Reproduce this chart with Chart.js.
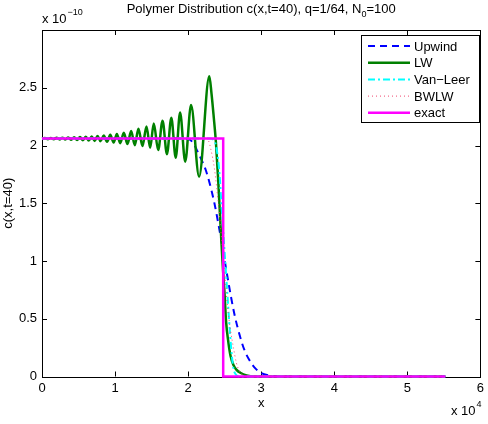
<!DOCTYPE html>
<html>
<head>
<meta charset="utf-8">
<script src="https://cdn.jsdelivr.net/npm/chart.js@4.4.0/dist/chart.umd.min.js"></script>
<style>
  body { margin: 0; background: #fff; }
  canvas { display: block; }
</style>
</head>
<body>
<canvas id="polymerChart" width="488" height="424"></canvas>
<script>
// Du lieu (x don vi 1e4, c don vi 1e-10)
const xTickValues = [0, 1, 2, 3, 4, 5, 6];
const yTickValues = [0, 0.5, 1, 1.5, 2, 2.5];

const upwindX = [0, 1.9, 2.0, 2.06, 2.12, 2.18, 2.24, 2.30, 2.36, 2.42, 2.47, 2.55, 2.63, 2.70, 2.77, 2.84, 2.92, 3.00, 3.10, 3.20, 3.30, 5.52];
const upwindY = [2.06, 2.06, 2.055, 2.03, 1.96, 1.88, 1.79, 1.66, 1.50, 1.30, 1.12, 0.82, 0.55, 0.37, 0.23, 0.14, 0.07, 0.03, 0.01, 0.003, 0, 0];

const lwX = [0, 0.04, 0.08, 0.12, 0.16, 0.20, 0.24, 0.28, 0.32, 0.36, 0.40, 0.44, 0.48, 0.52, 0.56, 0.60, 0.64, 0.68, 0.72, 0.76, 0.80,
  0.845, 0.89, 0.935, 0.98, 1.025, 1.07, 1.12, 1.17, 1.22, 1.27, 1.32, 1.375, 1.43, 1.48, 1.53, 1.59, 1.65, 1.71, 1.77, 1.83,
  1.89, 1.96, 2.04, 2.15, 2.29, 2.32, 2.35, 2.38, 2.41, 2.44, 2.47, 2.50, 2.52, 2.55, 2.58, 2.62, 2.66, 2.72, 2.80, 2.90, 5.52];
const lwY = [2.060, 2.065, 2.055, 2.066, 2.054, 2.067, 2.053, 2.068, 2.052, 2.070, 2.050, 2.072, 2.048, 2.074, 2.046, 2.076, 2.043, 2.079, 2.040, 2.082, 2.037,
  2.086, 2.032, 2.092, 2.026, 2.100, 2.020, 2.110, 2.012, 2.125, 2.003, 2.145, 1.995, 2.165, 1.980, 2.190, 1.960, 2.215, 1.925, 2.240, 1.895,
  2.285, 1.860, 2.350, 1.730, 2.600, 2.45, 2.25, 2.03, 1.72, 1.35, 1.00, 0.70, 0.47, 0.30, 0.18, 0.10, 0.06, 0.03, 0.01, 0, 0];

const vanLeerX = [0, 2.30, 2.36, 2.40, 2.43, 2.46, 2.50, 2.54, 2.57, 2.60, 2.62, 2.65, 2.70, 5.52];
const vanLeerY = [2.06, 2.06, 2.04, 1.93, 1.75, 1.45, 1.07, 0.69, 0.40, 0.17, 0.07, 0.02, 0, 0];

const bwlwX = [0, 2.25, 2.28, 2.31, 2.36, 2.41, 2.46, 2.50, 2.54, 2.58, 2.62, 2.66, 2.70, 2.75, 2.80, 5.52];
const bwlwY = [2.06, 2.06, 2.04, 1.97, 1.80, 1.52, 1.18, 0.90, 0.60, 0.40, 0.25, 0.12, 0.05, 0.015, 0, 0];

const exactX = [0, 2.48, 2.48, 5.52];
const exactY = [2.06, 2.06, 0, 0];

const FONT = "'Liberation Sans', Arial, sans-serif";
const FS = 13;

function toPoints(xs, ys) {
  return xs.map((x, i) => ({ x: x, y: ys[i] }));
}

// Plugin ve khung, vach chia, tieu de, chu thich
const matlabDecor = {
  id: 'matlabDecor',
  beforeDatasetsDraw(chart) {
    const ctx = chart.ctx;
    const a = chart.chartArea;
    const xs = chart.scales.x;
    const ys = chart.scales.y;
    ctx.save();
    ctx.strokeStyle = '#000';
    ctx.lineWidth = 1;
    ctx.strokeRect(Math.round(a.left) + 0.5, Math.round(a.top) + 0.5, Math.round(a.right - a.left), Math.round(a.bottom - a.top));
    ctx.beginPath();
    xTickValues.forEach(v => {
      const px = Math.round(xs.getPixelForValue(v)) + 0.5;
      ctx.moveTo(px, a.bottom); ctx.lineTo(px, a.bottom - 5);
      ctx.moveTo(px, a.top); ctx.lineTo(px, a.top + 5);
    });
    yTickValues.forEach(v => {
      const py = Math.round(ys.getPixelForValue(v)) + 0.5;
      ctx.moveTo(a.left, py); ctx.lineTo(a.left + 5, py);
      ctx.moveTo(a.right, py); ctx.lineTo(a.right - 5, py);
    });
    ctx.stroke();
    ctx.restore();
  },
  afterDraw(chart) {
    const ctx = chart.ctx;
    const a = chart.chartArea;
    const big = FS + 'px ' + FONT;
    const small = '9px ' + FONT;
    ctx.save();
    ctx.fillStyle = '#000';
    ctx.textBaseline = 'alphabetic';

    // Tieu de voi chi so duoi
    const t1 = 'Polymer Distribution c(x,t=40), q=1/64, N';
    const t2 = '0';
    const t3 = '=100';
    ctx.font = big;
    const w1 = ctx.measureText(t1).width;
    const w3 = ctx.measureText(t3).width;
    ctx.font = small;
    const w2 = ctx.measureText(t2).width;
    const tx = (a.left + a.right) / 2 - (w1 + w2 + w3) / 2;
    ctx.font = big;
    ctx.fillText(t1, tx, 13);
    ctx.font = small;
    ctx.fillText(t2, tx + w1, 17);
    ctx.font = big;
    ctx.fillText(t3, tx + w1 + w2, 13);

    // He so mu truc y
    ctx.font = big;
    ctx.fillText('x 10', 42, 23);
    const wy = ctx.measureText('x 10').width;
    ctx.font = small;
    ctx.fillText('\u221210', 42 + wy + 1, 15);

    // He so mu truc x
    ctx.font = big;
    ctx.fillText('x 10', 451, 415);
    const wx = ctx.measureText('x 10').width;
    ctx.font = small;
    ctx.fillText('4', 451 + wx + 1, 407);

    // Nhan truc
    ctx.font = big;
    ctx.textAlign = 'center';
    ctx.fillText('x', (a.left + a.right) / 2, 407);
    ctx.save();
    ctx.translate(12, (a.top + a.bottom) / 2);
    ctx.rotate(-Math.PI / 2);
    ctx.fillText('c(x,t=40)', 0, 0);
    ctx.restore();

    // Chu thich
    const bx = 361, by = 35, bw = 118, bh = 87;
    ctx.fillStyle = '#fff';
    ctx.fillRect(bx, by, bw, bh);
    ctx.strokeStyle = '#000';
    ctx.lineWidth = 1;
    ctx.strokeRect(bx + 0.5, by + 0.5, bw, bh);
    ctx.textAlign = 'left';
    ctx.textBaseline = 'middle';
    chart.data.datasets.forEach((ds, i) => {
      const ly = 46 + i * 16.7;
      ctx.save();
      ctx.strokeStyle = ds.borderColor;
      ctx.lineWidth = ds.borderWidth;
      ctx.setLineDash(ds.borderDash || []);
      ctx.beginPath();
      ctx.moveTo(368, ly);
      ctx.lineTo(410, ly);
      ctx.stroke();
      ctx.restore();
      ctx.fillStyle = '#000';
      ctx.font = big;
      ctx.fillText(ds.label, 414, ly + 1);
    });
    ctx.restore();
  }
};

document.addEventListener('DOMContentLoaded', function() {
  const ctx = document.getElementById('polymerChart').getContext('2d');

  new Chart(ctx, {
    type: 'line',
    data: {
      datasets: [
        {
          label: 'Upwind',
          data: toPoints(upwindX, upwindY),
          borderColor: '#0000ff',
          borderWidth: 2,
          borderDash: [7, 5],
          cubicInterpolationMode: 'monotone',
          order: 5
        },
        {
          label: 'LW',
          data: toPoints(lwX, lwY),
          borderColor: '#008000',
          borderWidth: 2.5,
          cubicInterpolationMode: 'monotone',
          order: 4
        },
        {
          label: 'Van\u2212Leer',
          data: toPoints(vanLeerX, vanLeerY),
          borderColor: '#00ffff',
          borderWidth: 2,
          borderDash: [7, 3, 2, 3],
          cubicInterpolationMode: 'monotone',
          order: 3
        },
        {
          label: 'BWLW',
          data: toPoints(bwlwX, bwlwY),
          borderColor: 'rgb(240,70,110)',
          borderWidth: 1,
          borderDash: [1, 3],
          cubicInterpolationMode: 'monotone',
          order: 2
        },
        {
          label: 'exact',
          data: toPoints(exactX, exactY),
          borderColor: '#ff00ff',
          borderWidth: 2.5,
          tension: 0,
          order: 1
        }
      ]
    },
    options: {
      responsive: false,
      animation: false,
      elements: { point: { radius: 0 } },
      datasets: { line: { clip: false, fill: false } },
      layout: { padding: { left: 0, right: 6, top: 30, bottom: 0 } },
      plugins: {
        legend: { display: false },
        title: { display: false },
        tooltip: { enabled: false }
      },
      scales: {
        x: {
          type: 'linear',
          min: 0,
          max: 6,
          afterBuildTicks: s => { s.ticks = xTickValues.map(v => ({ value: v })); },
          afterFit: s => { s.height = 47.5; },
          grid: { display: false, drawTicks: false },
          border: { display: false },
          ticks: { color: '#000', padding: 4, maxRotation: 0, font: { family: FONT, size: FS },
            callback: v => String(v) }
        },
        y: {
          type: 'linear',
          min: 0,
          max: 3,
          afterBuildTicks: s => { s.ticks = yTickValues.map(v => ({ value: v })); },
          afterFit: s => { s.width = 42; },
          grid: { display: false, drawTicks: false },
          border: { display: false },
          ticks: { color: '#000', padding: 5, font: { family: FONT, size: FS },
            callback: v => String(v) }
        }
      }
    },
    plugins: [matlabDecor]
  });
});
</script>
</body>
</html>
